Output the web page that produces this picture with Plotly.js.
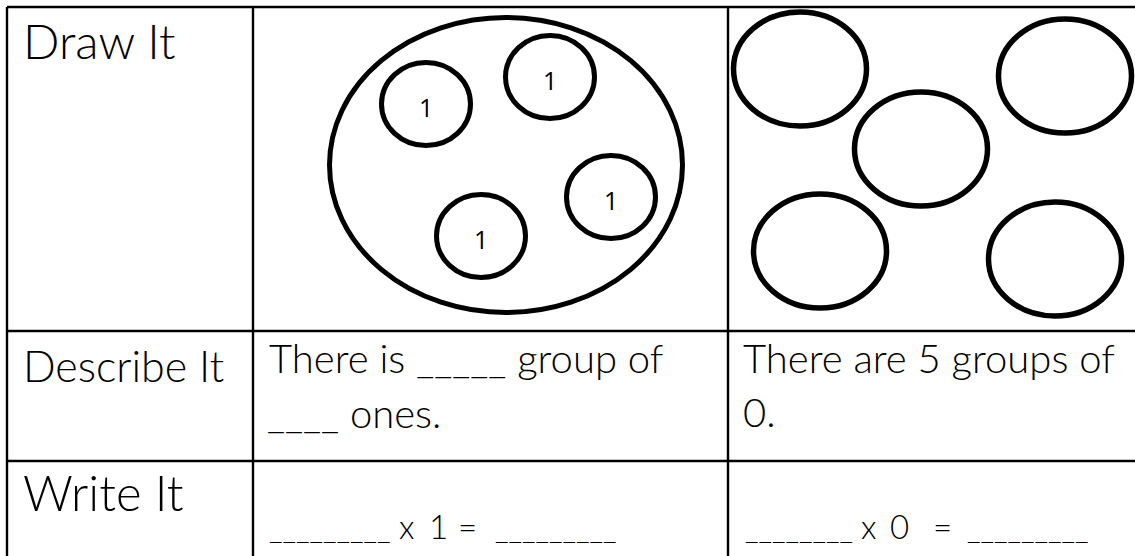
<!DOCTYPE html>
<html>
<head>
<meta charset="utf-8">
<script src="https://cdn.plot.ly/plotly-3.0.1.min.js"></script>
<style>html,body{margin:0;padding:0;background:#fff;}#chart{width:1135px;height:556px;}</style>
</head>
<body>
<div id="chart"></div>
<script>
// ---- data ----
const rowLabels = ["Draw It", "Describe It", "Write It"];
const groupsOfOne = [1, 1, 1, 1];          // values written inside the small groups
const emptyGroupCount = 5;                 // five groups of 0
const describeLines1 = ["There is _____ group of", "____ ones."];
const describeLines2 = ["There are 5 groups of", "0."];
const writeParts1 = ["_________", "x", "1", "=", "_________"];
const writeParts2 = ["________", "x", "0", "=", "_________"];

// ---- layout geometry (page pixels) ----
const W = 1135, H = 556;
const gridX = [7, 253, 728];
const gridY = [7, 331, 461];
const bigGroup = {cx: 506, cy: 165, rx: 176.5, ry: 147.5};
const smallPos = [[426, 104], [550, 77], [611, 197], [481, 236]];
const smallR = {rx: 44.5, ry: 41.5};
const emptyPos = [[800, 69], [1065, 76], [921, 149], [820, 251], [1055, 259]];
const emptyR = {rx: 66.5, ry: 57};
const writeX1 = [267, 397, 427, 456, 493];
const writeX2 = [743, 859, 888, 931, 965];
const writeSizes = [30, 33, 33, 33, 30];

const FONT = "Lato";
const shapes = [];
const line = (x0, y0, x1, y1, w) => shapes.push({type: "line", xref: "x", yref: "y", x0, y0, x1, y1, line: {color: "#000", width: w}});
gridY.forEach(y => line(gridX[0], y, W, y, 2.4));
gridX.forEach(x => line(x, gridY[0], x, H, 2.4));

const ell = (cx, cy, rx, ry, w) => shapes.push({type: "circle", xref: "x", yref: "y",
  x0: cx - rx, x1: cx + rx, y0: cy - ry, y1: cy + ry, line: {color: "#000", width: w}, fillcolor: "rgba(0,0,0,0)"});
ell(bigGroup.cx, bigGroup.cy, bigGroup.rx, bigGroup.ry, 5);
groupsOfOne.forEach((v, i) => ell(smallPos[i][0], smallPos[i][1], smallR.rx, smallR.ry, 5));
for (let i = 0; i < emptyGroupCount; i++) ell(emptyPos[i][0], emptyPos[i][1], emptyR.rx, emptyR.ry, 5.5);

const annotations = [];
const txt = (text, x, baseline, size, weight) => annotations.push({
  text, x, y: baseline - 0.40 * size, xref: "x", yref: "y", xanchor: "left", yanchor: "middle",
  showarrow: false, align: "left", font: {family: FONT, size, color: "#000", weight: weight || 300}
});
const labelSizes = [48, 43, 49];
const labelBase = [60, 383, 512];
rowLabels.forEach((t, i) => txt(t, 21, labelBase[i], labelSizes[i]));

txt(describeLines1[0], 267, 374, 40);
txt(describeLines1[1], 265, 429, 40);
txt(describeLines2[0], 741, 374, 40);
txt(describeLines2[1], 741, 428, 40);
writeParts1.forEach((t, i) => txt(t, writeX1[i], 539, writeSizes[i]));
writeParts2.forEach((t, i) => txt(t, writeX2[i], 539, writeSizes[i]));

groupsOfOne.forEach((v, i) => annotations.push({
  text: String(v), x: smallPos[i][0], y: smallPos[i][1] + 3, xref: "x", yref: "y",
  xanchor: "center", yanchor: "middle", showarrow: false,
  font: {family: "Open Sans", size: 25, color: "#000"}
}));

const layout = {
  width: W, height: H, margin: {l: 0, r: 0, t: 0, b: 0},
  paper_bgcolor: "#fff", plot_bgcolor: "#fff", showlegend: false,
  xaxis: {range: [0, W], visible: false, fixedrange: true},
  yaxis: {range: [H, 0], visible: false, fixedrange: true},
  shapes, annotations
};
Plotly.newPlot("chart", [{x: [], y: [], type: "scatter", mode: "markers", hoverinfo: "skip"}], layout, {staticPlot: true, displayModeBar: false});
</script>
</body>
</html>
